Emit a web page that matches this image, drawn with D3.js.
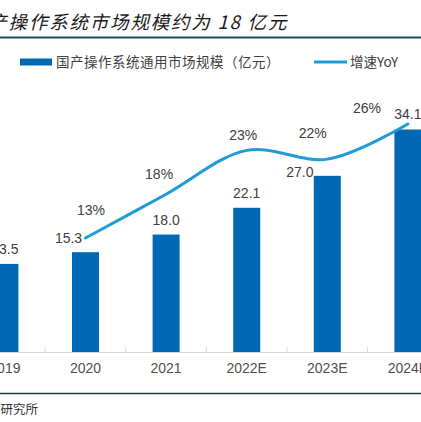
<!DOCTYPE html>
<html><head><meta charset="utf-8">
<script src="https://cdn.jsdelivr.net/npm/d3@7/dist/d3.min.js"></script>
<style>
html,body{margin:0;padding:0;background:#fff;overflow:hidden;}
svg{display:block;}
</style></head>
<body>
<script>
const categories = ["2019", "2020", "2021", "2022E", "2023E", "2024E"];
const marketSize = [13.5, 15.3, 18.0, 22.1, 27.0, 34.1];
const yoyGrowth = [null, 0.13, 0.18, 0.23, 0.22, 0.26];
const titleText = "国产操作系统市场规模约为 18 亿元";
const legendBar = "国产操作系统通用市场规模（亿元）";
const legendLine = "增速YoY";
const sourceText = "资料来源：研究所";

const W = 421, H = 422;
const svg = d3.select("body").append("svg").attr("width", W).attr("height", H);
const sans = "'Liberation Sans', Arial, sans-serif";
const cjk = "'Noto Sans CJK SC', sans-serif";

// title
svg.append("text").attr("x", -32).attr("y", 29)
  .attr("font-family", cjk).attr("font-size", 18.5).attr("font-style", "italic")
  .attr("letter-spacing", 1.8).attr("fill", "#1a1a1a").text(titleText);
svg.append("line").attr("x1", 0).attr("x2", W).attr("y1", 37.5).attr("y2", 37.5)
  .attr("stroke", "#1d4f5e").attr("stroke-width", 2.2);

// scales
const step = 80.6;
const x = d3.scaleBand().domain(categories)
  .range([4.9 - step / 2, 4.9 - step / 2 + step * categories.length])
  .paddingInner(0.665).paddingOuter(0.3325);
const yL = d3.scaleLinear().domain([0, 40]).range([352, 91]);
const yR = d3.scaleLinear().domain([0, 0.30]).range([352, 89]);
const cx = c => x(c) + x.bandwidth() / 2;

// axis
const axis = d3.axisBottom(x).tickSize(0).tickPadding(0);
const gAx = svg.append("g").attr("transform", "translate(0,352)").call(axis);
gAx.select(".domain").remove();
gAx.selectAll("text").remove();
svg.append("line").attr("x1", 0).attr("x2", W).attr("y1", 352.5).attr("y2", 352.5)
  .attr("stroke", "#d4d4d4").attr("stroke-width", 1.2);
svg.selectAll(".sep").data(categories.slice(0, -1)).enter().append("line")
  .attr("x1", d => x(d) + x.bandwidth() / 2 + step / 2).attr("x2", d => x(d) + x.bandwidth() / 2 + step / 2)
  .attr("y1", 347).attr("y2", 352).attr("stroke", "#dcdcdc").attr("stroke-width", 1);
svg.selectAll(".xl").data(categories).enter().append("text")
  .attr("x", d => cx(d)).attr("y", 373).attr("text-anchor", "middle")
  .attr("font-family", sans).attr("font-size", 14).attr("fill", "#505050").text(d => d);

// bars
svg.selectAll(".bar").data(categories).enter().append("rect")
  .attr("x", d => x(d)).attr("width", x.bandwidth())
  .attr("y", (d, i) => yL(marketSize[i])).attr("height", (d, i) => yL(0) - yL(marketSize[i]))
  .attr("fill", "#0068b5");

// bar labels
const barLabelShift = {"2020": [-17, 0.5], "2023E": [-27.5, 11]};
svg.selectAll(".bl").data(categories).enter().append("text")
  .attr("x", d => cx(d) + (barLabelShift[d] ? barLabelShift[d][0] : 0))
  .attr("y", (d, i) => yL(marketSize[i]) - 10 + (barLabelShift[d] ? barLabelShift[d][1] : 0))
  .attr("text-anchor", "middle").attr("font-family", sans).attr("font-size", 14)
  .attr("fill", "#404040").text((d, i) => marketSize[i].toFixed(1));

// line
const pts = categories.map((c, i) => ({c, v: yoyGrowth[i]})).filter(d => d.v != null);
const line = d3.line().x(d => cx(d.c)).y(d => yR(d.v)).curve(d3.curveCatmullRom.alpha(0.5));
svg.append("path").datum(pts).attr("d", line).attr("fill", "none")
  .attr("stroke", "#1f9bd7").attr("stroke-width", 3).attr("stroke-linecap", "round");

// yoy labels
const pctShift = {"2020": [5.5, -23], "2021": [-7, -15], "2022E": [-3.5, -10], "2023E": [-14.5, -21], "2024E": [-41, -11]};
svg.selectAll(".pl").data(pts).enter().append("text")
  .attr("x", d => cx(d.c) + pctShift[d.c][0]).attr("y", d => yR(d.v) + pctShift[d.c][1])
  .attr("text-anchor", "middle").attr("font-family", sans).attr("font-size", 14)
  .attr("fill", "#404040").text(d => Math.round(d.v * 100) + "%");

// legend
svg.append("rect").attr("x", 20).attr("y", 58.5).attr("width", 32).attr("height", 7).attr("fill", "#0068b5");
svg.append("text").attr("x", 56).attr("y", 66.5).attr("font-family", cjk).attr("font-size", 13.5)
  .attr("letter-spacing", 0.5).attr("fill", "#404040").text(legendBar);
svg.append("line").attr("x1", 314).attr("x2", 347).attr("y1", 62).attr("y2", 62)
  .attr("stroke", "#1f9bd7").attr("stroke-width", 3);
svg.append("text").attr("x", 350).attr("y", 66.5).attr("font-family", cjk).attr("font-size", 13.5)
  .attr("fill", "#404040").text(legendLine);

// bottom rule & source
svg.append("line").attr("x1", 0).attr("x2", W).attr("y1", 393.5).attr("y2", 393.5)
  .attr("stroke", "#1d3f4a").attr("stroke-width", 1.3);
svg.append("text").attr("x", 38).attr("y", 414).attr("text-anchor", "end")
  .attr("font-family", cjk).attr("font-size", 12.5).attr("fill", "#333").text(sourceText);
</script>
</body></html>
